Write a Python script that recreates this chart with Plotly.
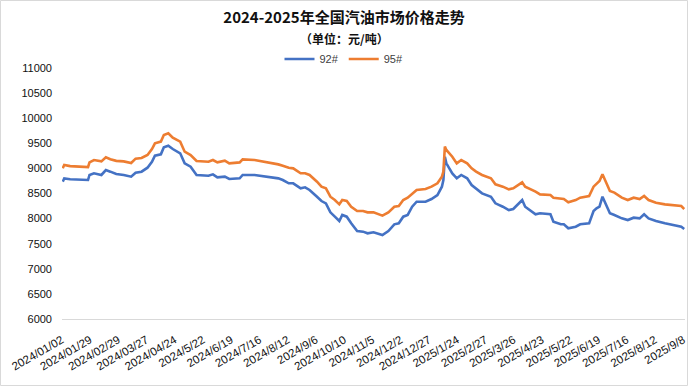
import plotly.graph_objects as go

# trading-day index (0 = 2024/01/02) of each sampled point
trade_day = [0, 1, 5, 12, 17, 18, 21, 26, 29, 32, 36, 41, 46, 49, 53, 57, 60, 62, 66, 68,
             71, 74, 79, 82, 86, 90, 98, 101, 104, 109, 112, 119, 121, 129, 139, 145, 148, 152, 155, 160,
             163, 166, 171, 174, 177, 180, 183, 186, 188, 191, 194, 198, 202, 205, 209, 215, 219, 223, 226, 229,
             232, 235, 238, 244, 248, 252, 255, 256, 257, 258, 262, 265, 268, 272, 275, 278, 282, 288, 291, 296,
             300, 303, 308, 309, 311, 315, 318, 321, 328, 330, 335, 337, 340, 345, 348, 354, 357, 359, 361, 363,
             366, 368, 371, 376, 380, 384, 388, 391, 394, 399, 405, 412, 416, 418]

price_92 = [8735, 8800, 8783, 8769, 8769, 8869, 8902, 8869, 8968, 8935, 8888, 8869, 8835, 8915, 8935, 9014, 9133, 9253, 9280, 9420,
            9452, 9386, 9300, 9100, 9034, 8869, 8855, 8882, 8822, 8835, 8789, 8802, 8869, 8869, 8835, 8802, 8769, 8703, 8703, 8603,
            8623, 8570, 8436, 8350, 8304, 8125, 8038, 7952, 8072, 8038, 7906, 7753, 7740, 7707, 7727, 7673, 7753, 7886, 7906, 8038,
            8072, 8237, 8337, 8337, 8390, 8470, 8636, 8769, 9233, 9100, 8900, 8802, 8869, 8802, 8669, 8590, 8503, 8436, 8304, 8237,
            8171, 8191, 8350, 8370, 8237, 8151, 8085, 8105, 8085, 7939, 7886, 7886, 7806, 7839, 7886, 7906, 8151, 8204, 8237, 8436,
            8237, 8105, 8072, 8005, 7972, 8018, 8005, 8085, 8005, 7952, 7906, 7873, 7839, 7793]

price_95 = [9002, 9068, 9046, 9030, 9026, 9121, 9167, 9140, 9221, 9181, 9150, 9140, 9108, 9194, 9207, 9267, 9386, 9500, 9534, 9665,
            9700, 9612, 9532, 9333, 9267, 9147, 9133, 9167, 9120, 9154, 9100, 9120, 9180, 9167, 9120, 9080, 9054, 9014, 9001, 8902,
            8902, 8869, 8735, 8636, 8603, 8436, 8370, 8284, 8370, 8350, 8237, 8151, 8151, 8125, 8125, 8058, 8125, 8237, 8250, 8370,
            8417, 8503, 8570, 8590, 8636, 8703, 8835, 8935, 9434, 9367, 9233, 9100, 9167, 9100, 9001, 8935, 8869, 8802, 8683, 8636,
            8583, 8603, 8703, 8723, 8636, 8583, 8536, 8483, 8470, 8417, 8390, 8390, 8324, 8370, 8417, 8450, 8636, 8683, 8749, 8882,
            8683, 8550, 8517, 8417, 8370, 8417, 8390, 8450, 8370, 8317, 8284, 8257, 8250, 8191]

tick_labels = ["2024/01/02", "2024/01/29", "2024/02/29", "2024/03/27", "2024/04/24", "2024/5/22",
               "2024/6/19", "2024/7/16", "2024/8/12", "2024/9/6", "2024/10/10", "2024/11/5",
               "2024/12/2", "2024/12/27", "2025/1/24", "2025/2/27", "2025/3/26", "2025/4/23",
               "2025/5/22", "2025/6/19", "2025/7/16", "2025/8/12", "2025/9/8"]
tick_step = 19
tick_pos = [i * tick_step for i in range(len(tick_labels))]

W, H = 688, 386
ML, MR, MT, MB = 62, 3, 68, 67
pw, ph = W - ML - MR, H - MT - MB

fig = go.Figure()
fig.add_trace(go.Scatter(x=trade_day, y=price_92, mode="lines", name="92#",
                         line=dict(color="#4472C4", width=2.6)))
fig.add_trace(go.Scatter(x=trade_day, y=price_95, mode="lines", name="95#",
                         line=dict(color="#ED7D31", width=2.6)))

cx = (344 - ML) / pw
fig.update_layout(
    width=W, height=H,
    margin=dict(l=ML, r=MR, t=MT, b=MB, autoexpand=False),
    paper_bgcolor="white", plot_bgcolor="white",
    title=dict(text="<b>2024-2025年全国汽油市场价格走势</b>", x=344 / W, xref="container",
               xanchor="center", y=1 - 18 / H, yref="container", yanchor="middle",
               font=dict(family="Noto Sans CJK SC", size=15, color="#111111")),
    annotations=[dict(text="<b>（单位：元/吨）</b>", xref="paper", yref="paper",
                      x=cx, y=(H - MB - 38) / ph, xanchor="center", yanchor="middle",
                      showarrow=False, font=dict(family="Noto Sans CJK SC", size=12, color="#111111"))],
    legend=dict(orientation="h", x=cx, xanchor="center", y=(H - MB - 59) / ph, yanchor="middle",
                font=dict(family="Liberation Sans", size=11, color="#404040"),
                itemwidth=30, tracegroupgap=0, bgcolor="rgba(0,0,0,0)"),
    xaxis=dict(range=[-0.5, 418.5], tickmode="array", tickvals=tick_pos, ticktext=tick_labels,
               tickangle=-30, showgrid=False, zeroline=False, showline=True, automargin=False,
               linecolor="#d9d9d9", linewidth=1, ticks="", ticklabeloverflow="allow",
               ticklabelstandoff=9, ticklabelshift=-1,
               tickfont=dict(family="Liberation Sans", size=11.5, color="#111111")),
    yaxis=dict(range=[6000, 11000], dtick=500, tick0=6000, tickformat="d", showgrid=False,
               zeroline=False, showline=False, ticks="", ticklabelstandoff=9, automargin=False,
               tickfont=dict(family="Liberation Sans", size=11, color="#111111")),
    shapes=[dict(type="rect", xref="paper", yref="paper",
                 x0=(-ML + 0.5) / pw, x1=(pw + MR - 0.5) / pw,
                 y0=(-MB + 0.5) / ph, y1=(ph + MT - 0.5) / ph,
                 line=dict(color="#d9d9d9", width=1), fillcolor="rgba(0,0,0,0)", layer="below")],
)

fig.write_html("out.html", config={"displayModeBar": False},
               post_script="document.body.style.margin='0';document.body.style.overflow='hidden';")
